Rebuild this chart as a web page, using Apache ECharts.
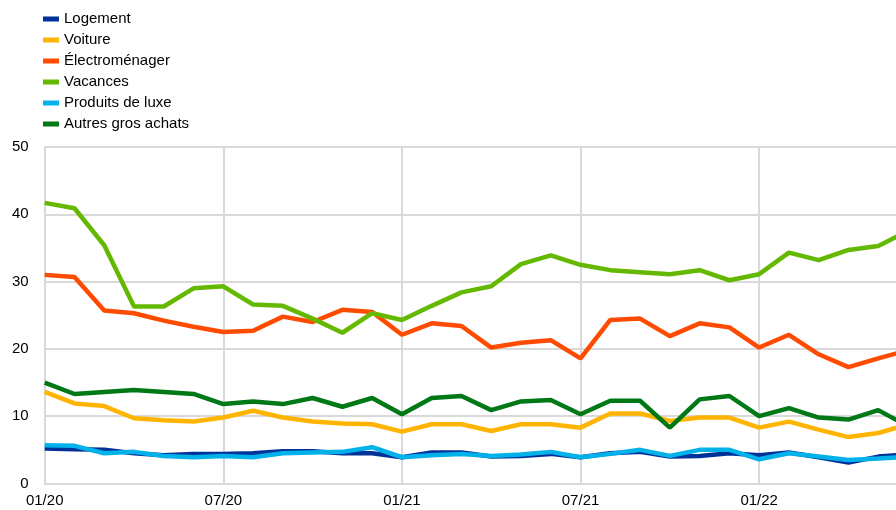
<!DOCTYPE html>
<html>
<head>
<meta charset="utf-8">
<script src="https://cdn.jsdelivr.net/npm/echarts@6/dist/echarts.min.js"></script>
<style>
  html, body { margin: 0; padding: 0; background: #fff; }
  #chart { width: 896px; height: 510px; }
</style>
</head>
<body>
<div id="chart"></div>
<script>
// Monthly categories, 01/20 .. 06/22 (last one falls just off the right edge)
const months = [
  "01/20", "02/20", "03/20", "04/20", "05/20", "06/20",
  "07/20", "08/20", "09/20", "10/20", "11/20", "12/20",
  "01/21", "02/21", "03/21", "04/21", "05/21", "06/21",
  "07/21", "08/21", "09/21", "10/21", "11/21", "12/21",
  "01/22", "02/22", "03/22", "04/22", "05/22", "06/22"
];

const logement = [
  5.2, 5.1, 5.0, 4.5, 4.2, 4.4, 4.4, 4.5, 4.8, 4.8,
  4.5, 4.5, 3.9, 4.6, 4.6, 4.0, 4.1, 4.4, 3.9, 4.5,
  4.7, 4.0, 4.1, 4.5, 4.2, 4.6, 3.9, 3.1, 4.0, 4.3
];
const voiture = [
  13.6, 11.9, 11.5, 9.7, 9.4, 9.2, 9.8, 10.8, 9.8, 9.2,
  8.9, 8.8, 7.7, 8.8, 8.8, 7.8, 8.8, 8.8, 8.3, 10.4,
  10.4, 9.3, 9.8, 9.8, 8.3, 9.2, 8.0, 6.9, 7.5, 8.8
];
const electromenager = [
  31.0, 30.7, 25.7, 25.3, 24.2, 23.3, 22.5, 22.7, 24.8, 24.0,
  25.8, 25.5, 22.1, 23.8, 23.4, 20.2, 20.9, 21.3, 18.6, 24.3,
  24.5, 21.9, 23.8, 23.2, 20.2, 22.1, 19.2, 17.3, 18.6, 19.8
];
const vacances = [
  41.7, 40.9, 35.4, 26.3, 26.3, 29.0, 29.3, 26.6, 26.4, 24.5,
  22.4, 25.3, 24.3, 26.4, 28.4, 29.3, 32.6, 33.9, 32.5, 31.7,
  31.4, 31.1, 31.7, 30.2, 31.1, 34.3, 33.2, 34.7, 35.3, 37.5
];
const luxe = [
  5.7, 5.6, 4.5, 4.7, 4.1, 3.9, 4.1, 3.9, 4.5, 4.6,
  4.7, 5.4, 3.9, 4.2, 4.4, 4.1, 4.3, 4.7, 3.9, 4.4,
  5.0, 4.1, 5.0, 5.0, 3.6, 4.5, 4.0, 3.5, 3.7, 4.0
];
const autres = [
  15.0, 13.3, 13.6, 13.9, 13.6, 13.3, 11.8, 12.2, 11.8, 12.7,
  11.4, 12.7, 10.3, 12.7, 13.0, 10.9, 12.2, 12.4, 10.3, 12.3,
  12.3, 8.3, 12.5, 13.0, 10.0, 11.2, 9.8, 9.5, 10.9, 8.5
];

const seriesDefs = [
  { name: "Logement", data: logement, color: "#003299" },
  { name: "Voiture", data: voiture, color: "#ffb400" },
  { name: "Électroménager", data: electromenager, color: "#ff4b00" },
  { name: "Vacances", data: vacances, color: "#65b800" },
  { name: "Produits de luxe", data: luxe, color: "#00b1ea" },
  { name: "Autres gros achats", data: autres, color: "#007816" }
];

const font = "Liberation Sans, Arial, sans-serif";
const gridGray = "#d9d9d9";

const chart = echarts.init(document.getElementById("chart"), null, { renderer: "canvas" });

chart.setOption({
  animation: false,
  textStyle: { fontFamily: font },
  legend: {
    orient: "vertical",
    left: 43,
    top: 11,
    padding: 0,
    itemWidth: 16,
    itemHeight: 5,
    itemGap: 5,
    icon: "rect",
    data: seriesDefs.map((s) => s.name),
    textStyle: { fontFamily: font, fontSize: 15, color: "#000", lineHeight: 16 }
  },
  // plot runs past the right edge so that 06/22 is cut off like the original
  grid: {
    left: 44.7,
    top: 147,
    height: 336.5,
    width: 863.3,
    outerBoundsMode: "none",
    containLabel: false
  },
  xAxis: {
    type: "category",
    data: months,
    boundaryGap: false,
    axisLine: { lineStyle: { color: gridGray, width: 2 } },
    axisTick: { show: false },
    axisLabel: {
      interval: 5,
      margin: 10,
      fontFamily: font,
      fontSize: 15,
      color: "#000"
    },
    splitLine: {
      show: true,
      interval: 5,
      lineStyle: { color: gridGray, width: 2 }
    }
  },
  yAxis: {
    type: "value",
    min: 0,
    max: 50,
    interval: 10,
    axisLine: { show: true, lineStyle: { color: gridGray, width: 2 } },
    axisTick: { show: false },
    axisLabel: {
      margin: 16,
      fontFamily: font,
      fontSize: 15,
      color: "#000"
    },
    splitLine: { lineStyle: { color: gridGray, width: 2 } }
  },
  series: seriesDefs.map((s) => ({
    name: s.name,
    type: "line",
    data: s.data,
    showSymbol: false,
    symbol: "none",
    color: s.color,
    lineStyle: { color: s.color, width: 4.5 },
    itemStyle: { color: s.color }
  }))
});
</script>
</body>
</html>
